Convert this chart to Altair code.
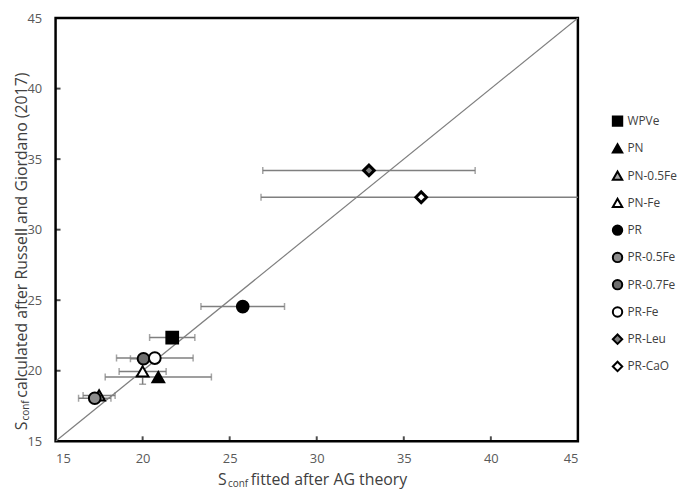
import altair as alt
import pandas as pd

# ---- data ----
series = ["WPVe", "PN", "PN-0.5Fe", "PN-Fe", "PR", "PR-0.5Fe", "PR-0.7Fe", "PR-Fe", "PR-Leu", "PR-CaO"]
x_ag = [21.7, 20.9, 17.5, 20.0, 25.75, 17.25, 20.05, 20.7, 33.0, 36.0]
y_rg = [22.35, 19.55, 18.25, 19.95, 24.55, 18.05, 20.85, 20.9, 34.2, 32.3]
x_err = [1.3, 3.05, 0.92, 1.35, 2.4, 0.93, 0.75, 2.2, 6.1, 9.2]
y_err = [0, 0, 0, 0.9, 0, 0, 0, 0, 0, 0]

fills = ["black", "black", "#a6a6a6", "white", "black", "#8c8c8c", "#6e6e6e", "white", "#7f7f7f", "white"]
shapes = ["square", "triangle-up", "triangle-up", "triangle-up", "circle", "circle", "circle", "circle", "diamond", "diamond"]
diamonds = ["PR-Leu", "PR-CaO"]

tick_vals = [15, 20, 25, 30, 35, 40, 45]
inner_ticks = [20, 25, 30, 35, 40]
diag = [15, 45]

df = pd.DataFrame({"series": series, "x": x_ag, "y": y_rg, "xerr": x_err, "yerr": y_err})
df["xlo"] = df["x"] - df["xerr"]
df["xhi"] = df["x"] + df["xerr"]
df["ylo"] = df["y"] - df["yerr"]
df["yhi"] = df["y"] + df["yerr"]

W, H = 527, 427
TOP = 8
FONT = "Open Sans"
xs = alt.Scale(domain=[15, 45], nice=False, zero=False)
ys = alt.Scale(domain=[15, 45], nice=False, zero=False)

x_axis = alt.Axis(values=tick_vals, title=None, grid=False, ticks=False, tickSize=0, domain=False,
                  labelFontSize=13, labelColor="#595959", labelPadding=11, labelFont=FONT)
y_axis = alt.Axis(values=tick_vals, title=None, grid=False, ticks=False, tickSize=0, domain=False,
                  labelFontSize=13, labelColor="#595959", labelPadding=14, labelFont=FONT)

leg = alt.Legend(title=None, orient="none", legendX=561, legendY=106 - TOP, labelFontSize=12,
                 labelColor="#404040", labelFont=FONT, symbolSize=90, symbolStrokeWidth=2,
                 rowPadding=9.5, labelOffset=4, padding=0)

enc_shape = alt.Shape("series:N", scale=alt.Scale(domain=series, range=shapes), legend=leg)
enc_fill = alt.Fill("series:N", scale=alt.Scale(domain=series, range=fills), legend=leg)
enc_stroke = alt.Stroke("series:N", scale=alt.Scale(domain=series, range=["black"] * len(series)), legend=leg)

base = alt.Chart(df)

diag_line = alt.Chart(pd.DataFrame({"d": diag})).mark_line(color="#7f7f7f", strokeWidth=1.2, clip=True).encode(
    x=alt.X("d:Q", scale=xs, axis=x_axis), y=alt.Y("d:Q", scale=ys, axis=y_axis))

ERR = "#7f7f7f"
err_h = base.mark_rule(color=ERR, strokeWidth=1.5, clip=True).encode(
    x=alt.X("xlo:Q", scale=xs, axis=x_axis), x2="xhi:Q", y=alt.Y("y:Q", scale=ys, axis=y_axis))
cap_l = base.mark_tick(color=ERR, thickness=1.5, size=7, orient="vertical", clip=True).encode(
    x=alt.X("xlo:Q", scale=xs, axis=x_axis), y=alt.Y("y:Q", scale=ys, axis=y_axis))
cap_r = base.mark_tick(color=ERR, thickness=1.5, size=7, orient="vertical", clip=True).encode(
    x=alt.X("xhi:Q", scale=xs, axis=x_axis), y=alt.Y("y:Q", scale=ys, axis=y_axis))

vbase = base.transform_filter(alt.datum.yerr > 0)
err_v = vbase.mark_rule(color=ERR, strokeWidth=1.5, clip=True).encode(
    x=alt.X("x:Q", scale=xs, axis=x_axis), y=alt.Y("ylo:Q", scale=ys, axis=y_axis), y2="yhi:Q")
cap_b = vbase.mark_tick(color=ERR, thickness=1.5, size=7, orient="horizontal", clip=True).encode(
    x=alt.X("x:Q", scale=xs, axis=x_axis), y=alt.Y("ylo:Q", scale=ys, axis=y_axis))
cap_t = vbase.mark_tick(color=ERR, thickness=1.5, size=7, orient="horizontal", clip=True).encode(
    x=alt.X("x:Q", scale=xs, axis=x_axis), y=alt.Y("yhi:Q", scale=ys, axis=y_axis))

pts = base.transform_filter(~alt.FieldOneOfPredicate(field="series", oneOf=diamonds)).mark_point(
    filled=True, size=140, strokeWidth=2, opacity=1).encode(
    x=alt.X("x:Q", scale=xs, axis=x_axis), y=alt.Y("y:Q", scale=ys, axis=y_axis),
    shape=enc_shape, fill=enc_fill, stroke=enc_stroke)
dia = base.transform_filter(alt.FieldOneOfPredicate(field="series", oneOf=diamonds)).mark_point(
    filled=True, size=115, strokeWidth=3, opacity=1).encode(
    x=alt.X("x:Q", scale=xs, axis=x_axis), y=alt.Y("y:Q", scale=ys, axis=y_axis),
    shape=enc_shape, fill=enc_fill, stroke=enc_stroke)

tick_df = pd.DataFrame({"t": inner_ticks})
xticks = alt.Chart(tick_df).mark_tick(color="black", thickness=2, size=5, orient="vertical").encode(
    x=alt.X("t:Q", scale=xs, axis=x_axis), y=alt.value(H - 2.5))
yticks = alt.Chart(tick_df).mark_tick(color="black", thickness=2, size=5, orient="horizontal").encode(
    y=alt.Y("t:Q", scale=ys, axis=y_axis), x=alt.value(2.5))


def txt(s, x, y, size, angle=0):
    m = dict(font=FONT, fontSize=size, color="#404040", align="left", baseline="middle")
    if angle:
        m["angle"] = angle
    return alt.Chart(alt.InlineData(values=[{"t": s}])).mark_text(**m).encode(
        x=alt.value(x), y=alt.value(y), text="t:N")


# page coordinates minus plot origin (56, 8 + TOP)
titles = [
    txt("S", 164, 482 - 8 - TOP, 16),
    txt("conf", 174, 486 - 8 - TOP, 10),
    txt("fitted after AG theory", 197, 482 - 8 - TOP, 16),
    txt("S", -34, 432 - 8 - TOP, 16, 270),
    txt("conf", -30, 422 - 8 - TOP, 10, 270),
    txt("calculated after Russell and Giordano (2017)", -34, 399 - 8 - TOP, 16, 270),
]

chart = alt.layer(diag_line, err_h, cap_l, cap_r, err_v, cap_b, cap_t, xticks, yticks, pts, dia, *titles).properties(
    width=W, height=H,
    autosize=alt.AutoSizeParams(type="none"),
    padding={"left": 48, "top": TOP, "right": 100, "bottom": 47},
    background="white",
).configure_view(stroke="black", strokeWidth=2.5).configure_axis(domain=False)

chart.save("out.html", embed_options={"renderer": "svg", "actions": False})
